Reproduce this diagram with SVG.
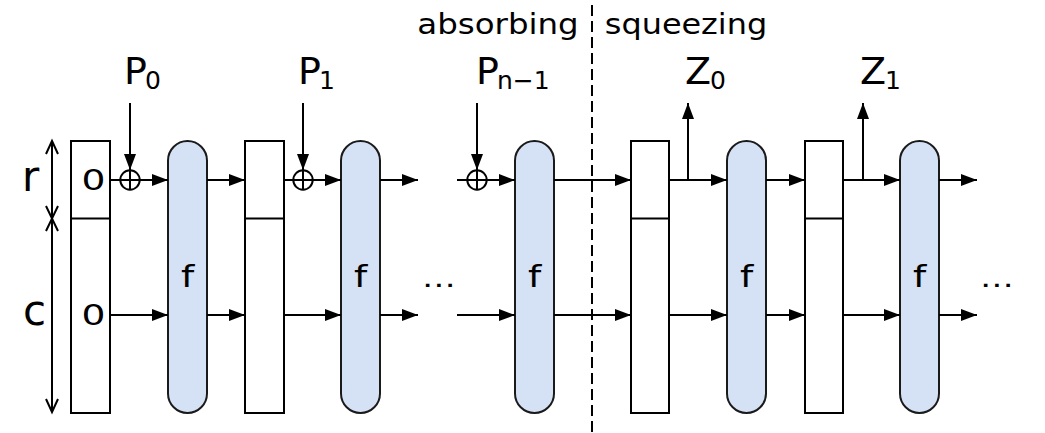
<svg xmlns="http://www.w3.org/2000/svg" width="1045" height="433" viewBox="0 0 1045 433">
<style>
.ln{stroke:#000;stroke-width:2;fill:none}
.box{fill:#fff;stroke:#000;stroke-width:2}
.f{fill:#d5e1f4;stroke:#1a1a1a;stroke-width:2}
text{font-family:"DejaVu Sans",sans-serif;fill:#000}
.big{font-size:38px}
.sub{font-size:25px}
.mid{text-anchor:middle}
</style>
<defs>
<marker id="ah" markerUnits="userSpaceOnUse" markerWidth="16" markerHeight="12" refX="16" refY="6" orient="auto">
<path d="M0,0 L16,6 L0,12 z" fill="#000"/>
</marker>
</defs>
<rect width="1045" height="433" fill="#fff"/>

<g id="phase-labels">
<text class="mid" font-size="29" transform="translate(498,34) scale(1.12,1)">absorbing</text>
<text class="mid" font-size="29" transform="translate(686,34) scale(1.1,1)">squeezing</text>
<line class="ln" x1="592" y1="5" x2="592" y2="433" stroke-dasharray="11 5"/>
</g>

<g id="dimensions">
<line class="ln" x1="52" y1="141" x2="52" y2="412"/>
<polyline class="ln" points="46,154 52,141 58,154"/>
<polyline class="ln" points="46,399 52,412 58,399"/>
<polyline class="ln" points="46,206 52,218.5 58,206"/>
<polyline class="ln" points="46,231 52,218.5 58,231"/>
<text font-size="42" x="22" y="191">r</text>
<text font-size="42" x="23" y="325">c</text>
</g>

<g id="state0">
<rect class="box" x="71" y="141" width="39" height="272"/>
<line class="ln" x1="71" y1="218.5" x2="110" y2="218.5"/>
<text class="mid" font-size="29" transform="translate(93.5,190) scale(1.3,1)">0</text>
<text class="mid" font-size="29" transform="translate(93.5,325) scale(1.3,1)">0</text>
</g>
<g id="state1">
<rect class="box" x="245" y="141" width="39" height="272"/>
<line class="ln" x1="245" y1="218.5" x2="284" y2="218.5"/>
</g>
<g id="state2">
<rect class="box" x="631" y="141" width="38" height="272"/>
<line class="ln" x1="631" y1="218.5" x2="669" y2="218.5"/>
</g>
<g id="state3">
<rect class="box" x="805" y="141" width="38" height="272"/>
<line class="ln" x1="805" y1="218.5" x2="843" y2="218.5"/>
</g>

<g id="f0"><rect class="f" x="168" y="141" width="39" height="272" rx="19.5"/>
<text class="mid" font-size="30" transform="translate(187.5,287) scale(1.25,1)">f</text></g>
<g id="f1"><rect class="f" x="341" y="141" width="39" height="272" rx="19.5"/>
<text class="mid" font-size="30" transform="translate(360.5,287) scale(1.25,1)">f</text></g>
<g id="f2"><rect class="f" x="515" y="141" width="39" height="272" rx="19.5"/>
<text class="mid" font-size="30" transform="translate(534.5,287) scale(1.25,1)">f</text></g>
<g id="f3"><rect class="f" x="727" y="141" width="39" height="272" rx="19.5"/>
<text class="mid" font-size="30" transform="translate(746.5,287) scale(1.25,1)">f</text></g>
<g id="f4"><rect class="f" x="900" y="141" width="39" height="272" rx="19.5"/>
<text class="mid" font-size="30" transform="translate(919.5,287) scale(1.25,1)">f</text></g>

<g id="connectors">
<path class="ln" marker-end="url(#ah)" d="M110,180 H168"/>
<path class="ln" marker-end="url(#ah)" d="M207,180 H245"/>
<path class="ln" marker-end="url(#ah)" d="M284,180 H341"/>
<path class="ln" marker-end="url(#ah)" d="M380,180 H418"/>
<path class="ln" marker-end="url(#ah)" d="M457,180 H515"/>
<path class="ln" marker-end="url(#ah)" d="M554,180 H631"/>
<path class="ln" marker-end="url(#ah)" d="M669,180 H727"/>
<path class="ln" marker-end="url(#ah)" d="M766,180 H805"/>
<path class="ln" marker-end="url(#ah)" d="M843,180 H900"/>
<path class="ln" marker-end="url(#ah)" d="M939,180 H977"/>
<path class="ln" marker-end="url(#ah)" d="M110,315 H168"/>
<path class="ln" marker-end="url(#ah)" d="M207,315 H245"/>
<path class="ln" marker-end="url(#ah)" d="M284,315 H341"/>
<path class="ln" marker-end="url(#ah)" d="M380,315 H418"/>
<path class="ln" marker-end="url(#ah)" d="M457,315 H515"/>
<path class="ln" marker-end="url(#ah)" d="M554,315 H631"/>
<path class="ln" marker-end="url(#ah)" d="M669,315 H727"/>
<path class="ln" marker-end="url(#ah)" d="M766,315 H805"/>
<path class="ln" marker-end="url(#ah)" d="M843,315 H900"/>
<path class="ln" marker-end="url(#ah)" d="M939,315 H977"/>
<path class="ln" marker-end="url(#ah)" d="M130,103 V170"/>
<path class="ln" marker-end="url(#ah)" d="M303,103 V170"/>
<path class="ln" marker-end="url(#ah)" d="M477,103 V170"/>
<path class="ln" marker-end="url(#ah)" d="M688,180 V103"/>
<path class="ln" marker-end="url(#ah)" d="M863,180 V103"/>
</g>

<g id="xor0"><circle class="ln" cx="130" cy="180" r="9.7"/><path class="ln" d="M130,170 V190 M120,180 H140"/></g>
<g id="xor1"><circle class="ln" cx="303" cy="180" r="9.7"/><path class="ln" d="M303,170 V190 M293,180 H313"/></g>
<g id="xor2"><circle class="ln" cx="477" cy="180" r="9.7"/><path class="ln" d="M477,170 V190 M467,180 H487"/></g>

<g id="label-P0"><text class="big" x="124" y="84">P<tspan class="sub" dx="-2" dy="4.5">0</tspan></text></g>
<g id="label-P1"><text class="big" x="298" y="84">P<tspan class="sub" dx="-2" dy="4.5">1</tspan></text></g>
<g id="label-Pn-1"><text class="big" x="476" y="84">P<tspan class="sub" dx="-2" dy="4.5">n−1</tspan></text></g>
<g id="label-Z0"><text class="big" x="685" y="84">Z<tspan class="sub" dx="-1" dy="4.5">0</tspan></text></g>
<g id="label-Z1"><text class="big" x="860" y="84">Z<tspan class="sub" dx="-1" dy="4.5">1</tspan></text></g>

<g id="ellipses">
<text class="mid" font-size="26" transform="translate(439,287) scale(1.3,1)">…</text>
<text class="mid" font-size="26" transform="translate(997,287) scale(1.3,1)">…</text>
</g>
</svg>
